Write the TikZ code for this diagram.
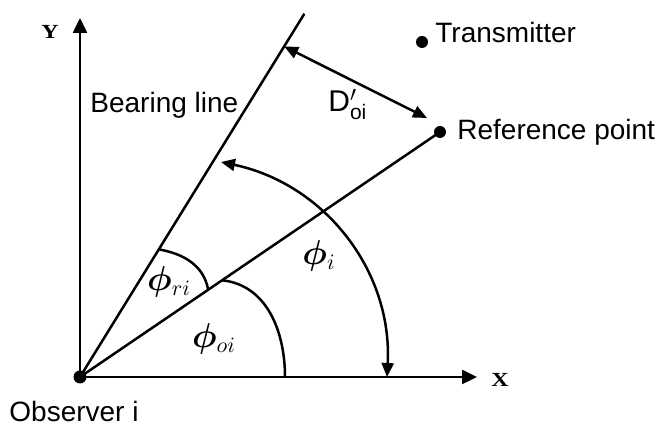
\documentclass[tikz,border=0pt]{standalone}
\usepackage{fontspec}
\usepackage{bm}
\setmainfont{Liberation Sans}
\newfontfamily\lblfont{Liberation Sans}
\newfontfamily\axfont{Liberation Serif}[FakeStretch=1.2]
\usepackage{tikz}
\usetikzlibrary{calc,positioning,arrows.meta}

\begin{document}
\begin{tikzpicture}[
  x=0.5pt, y=0.5pt,
  axisline/.style={line width=1.25pt, -{Triangle[length=7.5pt,width=7pt]}},
  rayline/.style={line width=1.25pt},
  anglearc/.style={line width=1.25pt},
  dimarrow/.style={line width=1.25pt, {Triangle[length=7pt,width=6pt]}-{Triangle[length=7pt,width=6pt]}},
  dotmark/.style={circle, fill=black, inner sep=0pt, minimum size=#1},
  lbl/.style={font=\lblfont\fontsize{14}{16}\selectfont, inner sep=0pt},
  axlbl/.style={font=\axfont\bfseries\fontsize{10}{12}\selectfont, inner sep=0pt},
  anglbl/.style={font=\fontsize{16}{18}\selectfont, inner sep=0pt},
]
\useasboundingbox (0,0) rectangle (660,428);

% Points
\node[dotmark=6.5pt] (obs) at (80,51) {};
\node[dotmark=6pt] (ref) at (440,296) {};
\node[dotmark=6pt] (tx) at (422,386) {};
\coordinate (ytop) at (80,410);
\coordinate (xend) at (477,51);
\coordinate (bend) at ($(obs)+(58.3:427)$);

% Axes and lines
\draw[axisline] (obs.center) -- (ytop);
\draw[axisline] (obs.center) -- (xend);
\draw[rayline] (obs.center) -- (bend);
\draw[rayline] (obs.center) -- (ref.center);

% Angle arcs
\coordinate (ri1) at ($(obs)+(58.3:150)$);
\coordinate (ri2) at ($(obs)+(34.2:155)$);
\coordinate (oi1) at ($(obs)+(34.2:172)$);
\coordinate (oi2) at ($(obs)+(205,0)$);
\coordinate (i1) at ($(obs)+(307,0)$);
\coordinate (i2) at (221,266);
\draw[anglearc] (ri1) to[out=-10, in=100] (ri2);
\draw[anglearc] (oi1) to[out=-6, in=90] (oi2);
\draw[anglearc, dimarrow] (i1) to[out=87, in=-12] (i2);

% Distance to reference point
\coordinate (d1) at ($(obs)!0.91!(bend)$);
\coordinate (d2) at (427,310);
\draw[dimarrow] (d1) -- (d2);

% Labels
\node[axlbl] (ylab) at (50,396) {Y};
\node[axlbl] (xlab) at (500,48) {X};
\node[lbl, anchor=base west] (txlab) at ([xshift=6.5pt,yshift=-0.5pt]tx.center) {Transmitter};
\node[lbl, anchor=base west] (reflab) at ([xshift=8.5pt,yshift=-4pt]ref.center) {Reference point};
\node[lbl, anchor=base west] (bearlab) at (90,315) {Bearing line};
\node[lbl, anchor=base west] (obslab) at (9,6) {Observer i};
\node[anchor=base west, inner sep=0pt, font=\lblfont\fontsize{15}{17}\selectfont] (dlab) at (328,316)
  {D\rlap{$'$}\raisebox{-0.5ex}{\fontsize{10.5}{12}\selectfont oi}};
\node[anglbl] (phiri) at (169,146) {$\bm{\phi}_{ri}$};
\node[anglbl] (phioi) at (214,89) {$\bm{\phi}_{oi}$};
\node[anglbl] (phii) at (319,172) {$\bm{\phi}_{i}$};

\end{tikzpicture}
\end{document}
